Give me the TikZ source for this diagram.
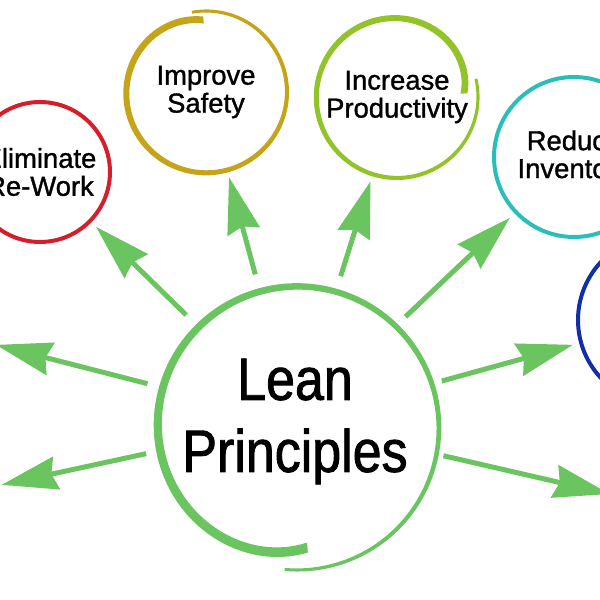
\documentclass[tikz,border=0pt]{standalone}
\usepackage{fontspec}
\setmainfont{Liberation Sans}[FakeBold=1.2]
\newfontfamily\narrowfont[FakeStretch=0.87,FakeBold=1.4]{Liberation Sans}
\usetikzlibrary{arrows.meta}

\definecolor{leangreen}{RGB}{106,196,96}
\definecolor{reworkred}{RGB}{214,30,42}
\definecolor{safetygold}{RGB}{198,164,26}
\definecolor{prodgreen}{RGB}{146,196,42}
\definecolor{invteal}{RGB}{42,190,184}
\definecolor{ringblue}{RGB}{18,46,168}

% brush ring: centre, start, end, radius, inward at start, start width, end width, colour
\newcommand{\brushring}[8]{%
\fill[#8, shift={#1}]
plot[domain=#2:#3, samples=160]
({(#4-#5*exp(-8*(\x-(#2))/((#3)-(#2)))+(#6+(#7-#6)*(\x-(#2))/((#3)-(#2)))/2)*cos(\x)},
{(#4-#5*exp(-8*(\x-(#2))/((#3)-(#2)))+(#6+(#7-#6)*(\x-(#2))/((#3)-(#2)))/2)*sin(\x)})
-- plot[domain=#3:#2, samples=160]
({(#4-#5*exp(-8*(\x-(#2))/((#3)-(#2)))-(#6+(#7-#6)*(\x-(#2))/((#3)-(#2)))/2)*cos(\x)},
{(#4-#5*exp(-8*(\x-(#2))/((#3)-(#2)))-(#6+(#7-#6)*(\x-(#2))/((#3)-(#2)))/2)*sin(\x)})
-- cycle;}

\begin{document}
\begin{tikzpicture}[
x=0.02cm, y=0.02cm,
every node/.style={font=\fontsize{15.6}{15.9}\selectfont, align=center},
hub/.style={
circle,
inner sep=0pt,
minimum size=5.6cm,
font=\narrowfont\fontsize{34}{41}\selectfont
},
topic/.style={circle, inner sep=0pt},
ring/.style={line width=0.08cm},
arrow/.style={
-{Stealth[length=1.12cm,width=0.66cm,inset=0.1cm]},
line width=0.1cm,
leangreen,
shorten <=0.24cm,
shorten >=0.16cm
}
]
\useasboundingbox (0,0) rectangle (600,600);
\clip (0,0) rectangle (600,600);

% Centre
\node[hub] (lean) at (295,178.5) {Lean\\Principles};

% Topics
\node[topic, minimum size=2.8cm] (rework) at (40,428) {Eliminate\\Re-Work};
\node[topic, minimum size=3.2cm] (safety) at (206,508) {Improve\\Safety};
\node[topic, minimum size=3.2cm] (productivity) at (397,503) {Increase\\Productivity};
\node[topic, minimum size=3.2cm] (inventory) at (574,443) {Reduce\\Inventory};
\node[topic, minimum size=3.4cm] (rightring) at (663,280) {};

% Free arrow ends
\coordinate (leftup) at (-11.7,257.1);
\coordinate (leftlow) at (-6.3,113.4);
\coordinate (rightlow) at (617.3,104.2);

% Rings
\brushring{([xshift=0.04cm,yshift=-0.13cm]lean.center)}{-85}{-455}{142}{22}{10}{3}{leangreen}
\brushring{(safety.center)}{92}{460}{81}{9}{7}{3}{safetygold}
\brushring{(productivity.center)}{3}{373}{81}{14}{7}{3}{prodgreen}
\draw[ring, reworkred] (rework.center) circle[radius=1.4cm];
\draw[ring, invteal] (inventory.center) circle[radius=1.6cm];
\draw[ring, ringblue] (rightring.center) circle[radius=1.7cm];

% Arrows
\draw[arrow] (lean)--(rework);
\draw[arrow] (lean)--(safety);
\draw[arrow] (lean)--(productivity);
\draw[arrow] (lean)--(inventory);
\draw[arrow] (lean)--(rightring);
\draw[arrow] (lean)--(rightlow);
\draw[arrow] (lean)--(leftup);
\draw[arrow] (lean)--(leftlow);

\end{tikzpicture}
\end{document}
